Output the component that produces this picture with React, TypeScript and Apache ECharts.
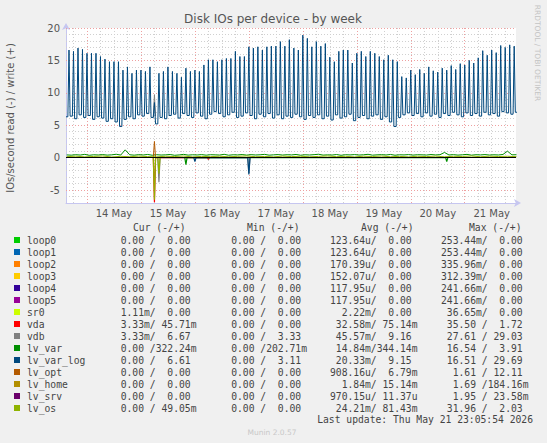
import React, { useEffect, useRef } from "react";
import * as echarts from "echarts";

// ---------- legend table ----------
const deviceNames = ["loop0", "loop1", "loop2", "loop3", "loop4", "loop5", "sr0", "vda", "vdb", "lv_var", "lv_var_log", "lv_opt", "lv_home", "lv_srv", "lv_os"];
const deviceColors = ["#00CC00", "#0066B3", "#FF8000", "#FFCC00", "#330099", "#990099", "#CCFF00", "#FF0000", "#808080", "#008F00", "#00487D", "#B35A00", "#B38F00", "#6B006B", "#8FB300"];
const curRead = ["0.00", "0.00", "0.00", "0.00", "0.00", "0.00", "1.11m", "3.33m", "3.33m", "0.00", "0.00", "0.00", "0.00", "0.00", "0.00"];
const curWrite = ["0.00", "0.00", "0.00", "0.00", "0.00", "0.00", "0.00", "45.71m", "6.67", "322.24m", "6.61", "0.00", "0.00", "0.00", "49.05m"];
const minRead = ["0.00", "0.00", "0.00", "0.00", "0.00", "0.00", "0.00", "0.00", "0.00", "0.00", "0.00", "0.00", "0.00", "0.00", "0.00"];
const minWrite = ["0.00", "0.00", "0.00", "0.00", "0.00", "0.00", "0.00", "0.00", "3.33", "202.71m", "3.11", "0.00", "0.00", "0.00", "0.00"];
const avgRead = ["123.64u", "123.64u", "170.39u", "152.07u", "117.95u", "117.95u", "2.22m", "32.58m", "45.57m", "14.84m", "20.33m", "908.16u", "1.84m", "970.15u", "24.21m"];
const avgWrite = ["0.00", "0.00", "0.00", "0.00", "0.00", "0.00", "0.00", "75.14m", "9.16", "344.14m", "9.15", "6.79m", "15.14m", "11.37u", "81.43m"];
const maxRead = ["253.44m", "253.44m", "335.96m", "312.39m", "241.66m", "241.66m", "36.65m", "35.50", "27.61", "16.54", "16.51", "1.61", "1.69", "1.95", "31.96"];
const maxWrite = ["0.00", "0.00", "0.00", "0.00", "0.00", "0.00", "0.00", "1.72", "29.03", "3.91", "29.69", "12.11", "184.16m", "23.58m", "2.03"];
const columnHeaders = ["Cur (-/+)", "Min (-/+)", "Avg (-/+)", "Max (-/+)"];

// ---------- axes ----------
// x values are hours counted from 13 May 00:00
const xStartHour = 14.67;
const xEndHour = 214.8;
const dayLabelHours = [36, 60, 84, 108, 132, 156, 180, 204];
const dayLabels = ["14 May", "15 May", "16 May", "17 May", "18 May", "19 May", "20 May", "21 May"];
const midnightHours = [24, 48, 72, 96, 120, 144, 168, 192];
const yMin = -7;
const yMax = 20;
const yLabelValues = [-5, 0, 5, 10, 15, 20];

// ---------- series data ----------
// lv_var_log writes: one spike every 2 hours, first at hour 16
const firstPeakHour = 16;
const lvVarLogStart = 6.3;
const lvVarLogPeaks = [
  16.6, 16.4, 16.9, 16.7, 16.1, 16.1, 16.1, 15.6, 15.2, 14.8,
  14.8, 14.8, 13.5, 14.0, 13.0, 13.5, 13.5, 13.3, 14.0, 8.5,
  13.0, 13.3, 14.0, 13.3, 13.0, 12.4, 13.8, 13.3, 13.5, 13.3,
  14.3, 15.1, 15.1, 14.8, 15.1, 15.3, 15.3, 16.4, 15.6, 15.6,
  17.1, 16.9, 17.1, 16.6, 17.1, 17.2, 17.2, 17.9, 17.2, 18.2,
  16.9, 16.6, 18.9, 18.4, 17.1, 17.9, 17.2, 17.6, 15.5, 14.8,
  16.4, 16.6, 16.6, 14.6, 16.1, 16.4, 15.6, 16.4, 16.1, 15.6,
  15.1, 15.8, 15.1, 14.8, 12.5, 12.3, 13.5, 12.8, 13.6, 13.0,
  14.0, 13.4, 13.2, 13.8, 13.5, 14.2, 13.6, 14.5, 14.3, 15.0,
  14.6, 15.4, 16.5, 15.8, 16.6, 16.2, 17.3, 17.0, 17.4, 17.2,
];
const lvVarLogTroughs = [
  6.4, 6.0, 6.6, 6.2, 6.5, 5.9, 6.3, 6.1, 5.6, 6.0,
  5.5, 4.8, 5.9, 6.3, 6.0, 6.6, 6.4, 6.8, 6.2, 5.2,
  6.2, 6.0, 6.5, 6.7, 6.1, 6.8, 6.5, 6.2, 6.9, 6.4,
  6.0, 6.7, 7.1, 6.8, 6.3, 6.6, 7.0, 6.2, 6.4, 6.9,
  6.5, 6.0, 6.7, 6.3, 6.8, 6.1, 6.6, 6.0, 6.4, 6.2,
  6.7, 6.3, 5.9, 6.5, 6.2, 6.6, 6.0, 6.4, 5.8, 6.6,
  6.1, 6.3, 6.7, 5.7, 6.2, 6.5, 6.0, 6.4, 6.6, 5.9,
  6.3, 5.5, 4.8, 6.2, 6.6, 6.9, 6.5, 6.8, 6.3, 6.9,
  6.4, 6.7, 6.2, 6.8, 6.5, 7.0, 6.6, 6.3, 6.9, 6.5,
  6.8, 6.4, 7.0, 6.6, 6.8, 6.4, 7.1, 6.9, 6.7, 7.0,
];
// lv_var writes every 2 hours from hour 15
const smallStartHour = 15;
const lvVarWrites = [
  0.42, 0.38, 0.45, 0.40, 0.50, 0.36, 0.44, 0.41, 0.47, 0.39,
  0.43, 0.52, 0.40, 1.20, 0.44, 0.38, 0.46, 0.41, 0.49, 0.37,
  0.45, 0.40, 0.43, 0.48, 0.36, 0.42, 0.50, 0.39, 0.44, 0.41,
  0.47, 0.38, 0.45, 0.43, 0.40, 0.51, 0.37, 0.44, 0.42, 0.48,
  0.39, 0.46, 0.41, 0.44, 0.50, 0.38, 0.43, 0.47, 0.40, 0.45,
  0.42, 0.49, 0.37, 0.44, 0.41, 0.46, 0.52, 0.39, 0.43, 0.40,
  0.48, 0.36, 0.45, 0.42, 0.47, 0.40, 0.44, 0.51, 0.38, 0.43,
  0.46, 0.41, 0.49, 0.37, 0.44, 0.42, 0.47, 0.39, 0.45, 0.43,
  0.40, 0.48, 0.42, 0.45, 0.80, 0.41, 0.46, 0.39, 0.44, 0.50,
  0.38, 0.45, 0.42, 0.47, 0.40, 0.44, 0.41, 0.49, 1.00, 0.43,
  0.45,
];
// lv_os writes every 4 hours from hour 15
const lvOsWrites = [
  0.15, 0.22, 0.12, 0.18, 0.25, 0.10, 0.20, 0.14, 0.23, 0.16,
  0.12, 0.21, 0.17, 0.24, 0.11, 0.19, 0.15, 0.22, 0.13, 0.20,
  0.26, 0.14, 0.18, 0.12, 0.23, 0.16, 0.21, 0.13, 0.19, 0.25,
  0.15, 0.20, 0.11, 0.22, 0.17, 0.24, 0.14, 0.19, 0.12, 0.21,
  0.16, 0.23, 0.13, 0.20, 0.18, 0.25, 0.14, 0.22, 0.17, 0.21,
  0.15,
];
// sparse events [hour, value]
const vdbWriteEvent: [number, number][] = [[53.5, 6.2], [54, 9.7], [54.5, 6.4]];
const lvOptWriteEvent: [number, number][] = [[53.5, 0], [54, 2.5], [54.5, 0]];
const vdaReads: [number, number][] = [[53.5, 0], [54, -6.9], [54.5, 0], [77.5, 0], [78, -0.3], [78.5, 0]];
const vdbReads: [number, number][] = [[55.5, 0], [56, -3.8], [56.5, 0], [95.5, 0], [96, -2.4], [96.5, 0]];
const lvVarReads: [number, number][] = [[67.5, 0], [68, -1.1], [68.5, 0], [183.5, 0], [184, -0.6], [184.5, 0]];
const lvVarLogReads: [number, number][] = [[71.5, 0], [72, -0.6], [72.5, 0], [95.5, 0], [96, -2.6], [96.5, 0]];
const lvOsReads: [number, number][] = [[53.5, 0], [54, -6.5], [54.5, 0], [55.5, 0], [56, -2.5], [56.5, 0]];

// ---------- layout ----------
const GRID = { left: 66, top: 28, width: 450, height: 175 };
const LEGEND_NAME_X = 27;
const LEGEND_FIELD_X = [109, 219.5, 330, 441];
const LEGEND_HEADER_X = [133, 247, 361, 469];
const LEGEND_HEADER_Y = 227;
const LEGEND_ROW_Y = 240;
const LEGEND_ROW_STEP = 12;
const MONO = '"DejaVu Sans Mono", monospace';
const SANS = '"DejaVu Sans", sans-serif';
const LEGEND_FONT = 9.7;
const TEXT_COLOR = "#444";

function pad(v: string): string {
  const m = v.match(/^([\d.]+)([a-zA-Z]?)$/);
  const num = m ? m[1] : v;
  const unit = m && m[2] ? m[2] : " ";
  return num.padStart(6, " ") + unit;
}
function field(r: string, w: string): string {
  return (pad(r) + "/" + pad(w)).replace(/ /g, "\u00A0");
}

function buildLvVarLog(): [number, number][] {
  const out: [number, number][] = [[xStartHour, lvVarLogStart], [firstPeakHour - 0.5, lvVarLogStart]];
  lvVarLogPeaks.forEach((p, i) => {
    const h = firstPeakHour + 2 * i;
    out.push([h, p], [h + 0.5, lvVarLogTroughs[i]], [h + 1.5, lvVarLogTroughs[i]]);
  });
  return out;
}

function lineSeries(name: string, color: string, data: [number, number][], width = 1) {
  return {
    type: "line",
    name,
    data,
    showSymbol: false,
    symbol: "none",
    silent: true,
    lineStyle: { color, width },
    itemStyle: { color },
    emphasis: { disabled: true },
    z: 2,
  };
}

function gridLineSeries(name: string, items: any[], color: string, z: number, type: any) {
  return {
    type: "line",
    name,
    data: [],
    silent: true,
    markLine: {
      silent: true,
      symbol: ["none", "none"],
      label: { show: false },
      animation: false,
      z,
      lineStyle: { color, width: 1, type },
      emphasis: { disabled: true },
      data: items,
    },
  };
}

export default function App() {
  const ref = useRef<HTMLDivElement>(null);
  useEffect(() => {
    if (!ref.current) return;
    const chart = echarts.init(ref.current, undefined, { renderer: "svg" });

    const colorOf = (n: string) => deviceColors[deviceNames.indexOf(n)];

    const minorY: any[] = [];
    for (let v = yMin + 1; v < yMax; v++) if (v % 5 !== 0) minorY.push({ yAxis: v });
    const minorX: any[] = [];
    for (let h = 18; h < xEndHour; h += 6) if (h % 24 !== 0) minorX.push({ xAxis: h });
    const majorY = yLabelValues.map((v) => ({ yAxis: v }));
    const majorX = midnightHours.map((h) => ({ xAxis: h }));

    const lvVarData: [number, number][] = lvVarWrites.map((v, i) => [smallStartHour + 2 * i, v]);
    const lvOsData: [number, number][] = lvOsWrites.map((v, i) => [smallStartHour + 4 * i, v]);

    const graphics: any[] = [];
    graphics.push({
      type: "text", x: 273, y: 19,
      style: { text: "Disk IOs per device - by week", fontSize: 12, fontFamily: SANS, fill: "#555", align: "center", verticalAlign: "middle", textAlign: "center", textVerticalAlign: "middle" },
    });
    graphics.push({
      type: "text", x: 10, y: 118, rotation: Math.PI / 2,
      style: { text: "IOs/second read (-) / write (+)", fontSize: 10, fontFamily: SANS, fill: "#555", align: "center", verticalAlign: "middle", textAlign: "center", textVerticalAlign: "middle" },
    });
    graphics.push({
      type: "text", x: 537, y: 53, rotation: -Math.PI / 2,
      style: { text: "RRDTOOL / TOBI OETIKER", fontSize: 7.5, fontFamily: SANS, fill: "#c4c4c4", align: "center", verticalAlign: "middle", textAlign: "center", textVerticalAlign: "middle" },
    });
    columnHeaders.forEach((t, i) => {
      graphics.push({
        type: "text", x: LEGEND_HEADER_X[i], y: LEGEND_HEADER_Y,
        style: { text: t, fontSize: LEGEND_FONT, fontFamily: MONO, fill: TEXT_COLOR, align: "left", verticalAlign: "middle", textAlign: "left", textVerticalAlign: "middle" },
      });
    });
    deviceNames.forEach((n, i) => {
      const y = LEGEND_ROW_Y + i * LEGEND_ROW_STEP;
      graphics.push({ type: "rect", shape: { x: 14, y: y - 3, width: 6, height: 6 }, style: { fill: deviceColors[i] } });
      const texts = [
        [LEGEND_NAME_X, n],
        [LEGEND_FIELD_X[0], field(curRead[i], curWrite[i])],
        [LEGEND_FIELD_X[1], field(minRead[i], minWrite[i])],
        [LEGEND_FIELD_X[2], field(avgRead[i], avgWrite[i])],
        [LEGEND_FIELD_X[3], field(maxRead[i], maxWrite[i])],
      ] as [number, string][];
      texts.forEach(([x, t]) => {
        graphics.push({
          type: "text", x, y,
          style: { text: t, fontSize: LEGEND_FONT, fontFamily: MONO, fill: TEXT_COLOR, align: "left", verticalAlign: "middle", textAlign: "left", textVerticalAlign: "middle" },
        });
      });
    });
    graphics.push({
      type: "text", x: 533, y: 419,
      style: { text: "Last update: Thu May 21 23:05:54 2026".replace(/ /g, "\u00A0"), fontSize: LEGEND_FONT, fontFamily: MONO, fill: TEXT_COLOR, align: "right", verticalAlign: "middle", textAlign: "right", textVerticalAlign: "middle" },
    });
    graphics.push({
      type: "text", x: 272, y: 432,
      style: { text: "Munin 2.0.57", fontSize: 7.5, fontFamily: SANS, fill: "#c8c8c8", align: "center", verticalAlign: "middle", textAlign: "center", textVerticalAlign: "middle" },
    });

    const axisLineStyle = { color: "#c6c6f0", width: 1 };

    chart.setOption({
      animation: false,
      backgroundColor: "#f0f0f0",
      grid: { left: GRID.left, top: GRID.top, width: GRID.width, height: GRID.height, show: true, backgroundColor: "#ffffff", borderWidth: 0 },
      xAxis: {
        type: "value",
        min: xStartHour,
        max: xEndHour,
        axisLine: { show: true, onZero: false, lineStyle: axisLineStyle, symbol: ["none", "arrow"], symbolSize: [6, 7], symbolOffset: [0, 5] },
        axisTick: { show: false },
        splitLine: { show: false },
        axisLabel: {
          customValues: dayLabelHours,
          formatter: (v: number) => {
            const i = dayLabelHours.indexOf(Math.round(v));
            return i >= 0 ? dayLabels[i] : "";
          },
          color: "#555", fontSize: 10, fontFamily: SANS, margin: 5,
        },
      },
      yAxis: {
        type: "value",
        min: yMin,
        max: yMax,
        axisLine: { show: true, onZero: false, lineStyle: axisLineStyle, symbol: ["none", "arrow"], symbolSize: [6, 7], symbolOffset: [0, 5] },
        axisTick: { show: false },
        splitLine: { show: false },
        axisLabel: {
          customValues: yLabelValues,
          formatter: (v: number) => String(v),
          color: "#555", fontSize: 10, fontFamily: SANS, margin: 6,
        },
      },
      graphic: graphics,
      series: [
        gridLineSeries("minorGrid", [...minorY, ...minorX], "#d0d0d0", 1, [1, 2]),
        gridLineSeries("majorGrid", [...majorY, ...majorX], "#eea0a0", 1, [1, 2]),
        lineSeries("vdb_w", colorOf("vdb"), vdbWriteEvent),
        lineSeries("lv_var_w", colorOf("lv_var"), lvVarData),
        lineSeries("lv_var_log_w", colorOf("lv_var_log"), buildLvVarLog(), 1),
        lineSeries("lv_opt_w", colorOf("lv_opt"), lvOptWriteEvent),
        lineSeries("lv_os_w", colorOf("lv_os"), lvOsData),
        lineSeries("vda_r", colorOf("vda"), vdaReads, 1.2),
        lineSeries("vdb_r", colorOf("vdb"), vdbReads, 1.2),
        lineSeries("lv_var_r", colorOf("lv_var"), lvVarReads, 1.2),
        lineSeries("lv_var_log_r", colorOf("lv_var_log"), lvVarLogReads, 1.2),
        lineSeries("lv_os_r", colorOf("lv_os"), lvOsReads, 1.2),
        gridLineSeries("zero", [{ yAxis: 0 }], "#000000", 10, "solid"),
      ],
    });
    return () => chart.dispose();
  }, []);
  return (
    <div
      ref={ref}
      style={{ position: "fixed", left: 0, top: 0, width: 547, height: 443, background: "#f0f0f0" }}
    />
  );
}
